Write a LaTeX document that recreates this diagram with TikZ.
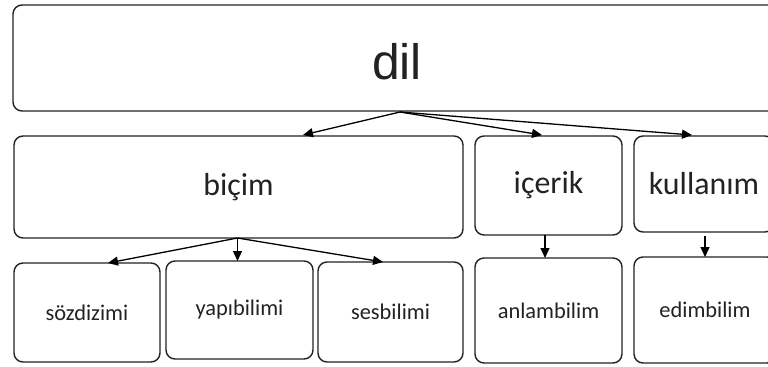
\documentclass[tikz,border=0pt]{standalone}
\usepackage{fontspec}
\setmainfont{Carlito}
\newfontfamily\titlefont{Liberation Sans}
\usetikzlibrary{arrows.meta,calc}
\definecolor{ink}{HTML}{222222}
\tikzset{
  box/.style={draw=ink, line width=1.4bp, rounded corners=9bp, inner sep=0pt, outer sep=0pt, fill=white, text=ink},
  arr/.style={draw=black, line width=1.3bp, -{Triangle[length=10bp,width=9bp]}},
  big/.style={font=\fontsize{32}{36}\selectfont},
  small/.style={font=\fontsize{22.5}{26}\selectfont}
}
\begin{document}
\begin{tikzpicture}[x=1bp,y=-1bp]
\useasboundingbox (0,0) rectangle (768,366);
\clip (0,0) rectangle (768,366);

% top level
\node[box, minimum width=768bp, minimum height=106bp] (dil) at (397,58) {};
\node[text=ink, font=\titlefont\fontsize{50}{56}\selectfont] (diltext) at (397,62) {dil};

% second level
\node[box, big, minimum width=449bp, minimum height=102bp] (bicim) at (238.5,187) {biçim};
\node[box, big, minimum width=147bp, minimum height=99bp] (icerik) at (548.5,185.5) {içerik};
\node[box, big, minimum width=140bp, minimum height=96bp] (kullanim) at (704,184) {kullanım};

% third level
\node[box, small, minimum width=146bp, minimum height=99bp] (sozdizimi) at (87,312.5) {sözdizimi};
\node[box, small, minimum width=147bp, minimum height=98bp] (yapibilimi) at (239.5,310) {yapıbilimi};
\node[box, small, minimum width=145bp, minimum height=100bp] (sesbilimi) at (390.5,312) {sesbilimi};
\node[box, small, minimum width=147bp, minimum height=105bp] (anlambilim) at (548.5,310.5) {anlambilim};
\node[box, small, minimum width=142bp, minimum height=106bp] (edimbilim) at (705,310) {edimbilim};

% connectors
\coordinate (dsrc) at ($(dil.south)+(3,1)$);
\draw[arr] (dsrc) -- ($(bicim.north)+(64.5,-1)$);
\draw[arr] (dsrc) -- ($(icerik.north)+(-6.5,-1)$);
\draw[arr] (dsrc) -- ($(kullanim.north)+(-12,-1)$);

\coordinate (bsrc) at ($(bicim.south)+(-1,0)$);
\draw[arr] (bsrc) -- ($(sozdizimi.north)+(21,0)$);
\draw[arr] (bsrc) -- ($(yapibilimi.north)+(-2,0)$);
\draw[arr] (bsrc) -- ($(sesbilimi.north)+(-7.5,0)$);

\draw[arr] ($(icerik.south)+(-3.5,0)$) -- ($(anlambilim.north)+(-3.5,0)$);
\draw[arr] ($(kullanim.south)+(1,4)$) -- ($(edimbilim.north)+(0,0)$);
\end{tikzpicture}
\end{document}
